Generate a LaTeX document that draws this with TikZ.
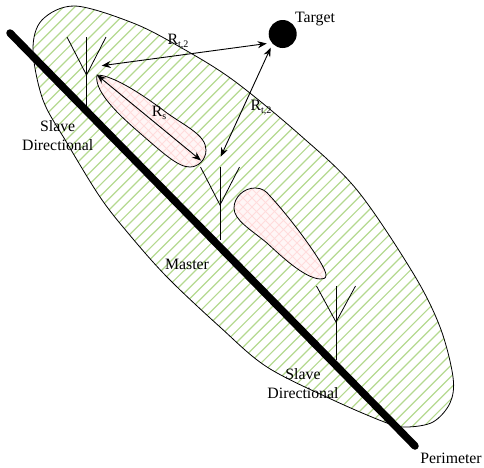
\documentclass[tikz,border=0pt]{standalone}
\usepackage{fontspec}
\setmainfont{Liberation Serif}
\usetikzlibrary{arrows.meta}
\definecolor{hatchgreen}{HTML}{B4D98F}
\definecolor{hatchpink}{HTML}{FFDCDC}
\tikzset{
  x=1pt,y=-1pt,
  antenna/.style={draw=black,line width=0.8pt},
  dist/.style={draw=black,line width=0.9pt,{Stealth[length=9pt,width=7pt]}-{Stealth[length=9pt,width=7pt]}},
  lbl/.style={font=\fontsize{15.8}{19}\selectfont,inner sep=0pt,align=center,text=black},
}
\newcommand{\sbs}[1]{\raisebox{-3pt}{\fontsize{10}{12}\selectfont #1}}
\newcommand{\ellpath}{plot[smooth cycle,tension=0.55] coordinates {(33,50) (42,20) (75,6) (133,23) (180,47) (233,80) (300,135) (357,190) (413,273) (440,327) (453,377) (450,403) (433,422) (407,427) (387,423) (333,400) (267,367) (220,327) (167,277) (128,233) (100,197) (67,143) (43,100)}}
\newcommand{\dropone}{(97,75) .. controls (108,75) and (130,85) .. (167,113) .. controls (185,126) and (206,135) .. (206,150) .. controls (206,160) and (198,167) .. (190,167) .. controls (178,167) and (165,155) .. (133,127) .. controls (115,111) and (94,90) .. (97,75) -- cycle}
\newcommand{\droptwo}{(255,188) .. controls (262,188) and (266,191) .. (270,196) .. controls (288,215) and (326,265) .. (326,275) .. controls (326,279) and (323,279) .. (320,279) .. controls (304,278) and (280,255) .. (267,243) .. controls (250,229) and (234,220) .. (234,208) .. controls (234,197) and (244,188) .. (255,188) -- cycle}
\begin{document}
\begin{tikzpicture}
\useasboundingbox (0,0) rectangle (484,467);
\begin{scope}
  \clip \ellpath;
  \foreach \k in {-1,...,90}{
    \draw[hatchgreen,line width=1.2pt] (-20+11.3*\k,0) -- ++(-500,500);
  }
\end{scope}
\draw[line width=0.8pt] \ellpath;
\foreach \d in {\dropone,\droptwo}{
  \begin{scope}
    \clip \d;
    \fill[white] (0,0) rectangle (484,467);
    \fill[hatchpink!25] (0,0) rectangle (484,467);
    \foreach \k in {0,...,110}{
      \draw[hatchpink,line width=0.9pt] (9*\k,0) -- ++(-500,500);
      \draw[hatchpink,line width=0.9pt] (-450+9*\k,0) -- ++(500,500);
    }
  \end{scope}
  \draw[line width=0.8pt] \d;
}
\coordinate (pa) at (10,33); \coordinate (pb) at (415,446);
\draw[line width=7.5pt,line cap=round] (pa) -- (pb);
\foreach \x/\t/\v/\b in {86.5/37/75/106, 220/167/205/240, 336/286/322/360}{
  \draw[antenna] (\x,\t) -- (\x,\b);
  \draw[antenna] (\x-19.5,\t) -- (\x,\v) -- (\x+19.5,\t);
}
\node[circle,fill=black,minimum size=28pt,inner sep=0pt] (tg) at (282.7,34) {};
\coordinate (a1) at (101.7,65.7); \coordinate (a2) at (266.7,43.5);
\coordinate (b1) at (220.7,156.7); \coordinate (b2) at (270.7,47.7);
\coordinate (c1) at (97,75); \coordinate (c2) at (201,160.5);
\draw[dist] (a1) -- (a2);
\draw[dist] (b1) -- (b2);
\draw[dist] (c1) -- (c2);
\node[lbl] (l1) at (315,19) {Target};
\node[lbl] (l2) at (57.7,135.5) {Slave\\Directional};
\node[lbl] (l3) at (303,383.5) {Slave\\Directional};
\node[lbl] (l4) at (187,264) {Master};
\node[lbl] (l5) at (451,458) {Perimeter};
\node[lbl] (l6) at (178,42) {R\sbs{t,2}};
\node[lbl] (l7) at (261,108) {R\sbs{t,2}};
\node[lbl] (l8) at (159,113) {R\sbs{s}};
\end{tikzpicture}
\end{document}
